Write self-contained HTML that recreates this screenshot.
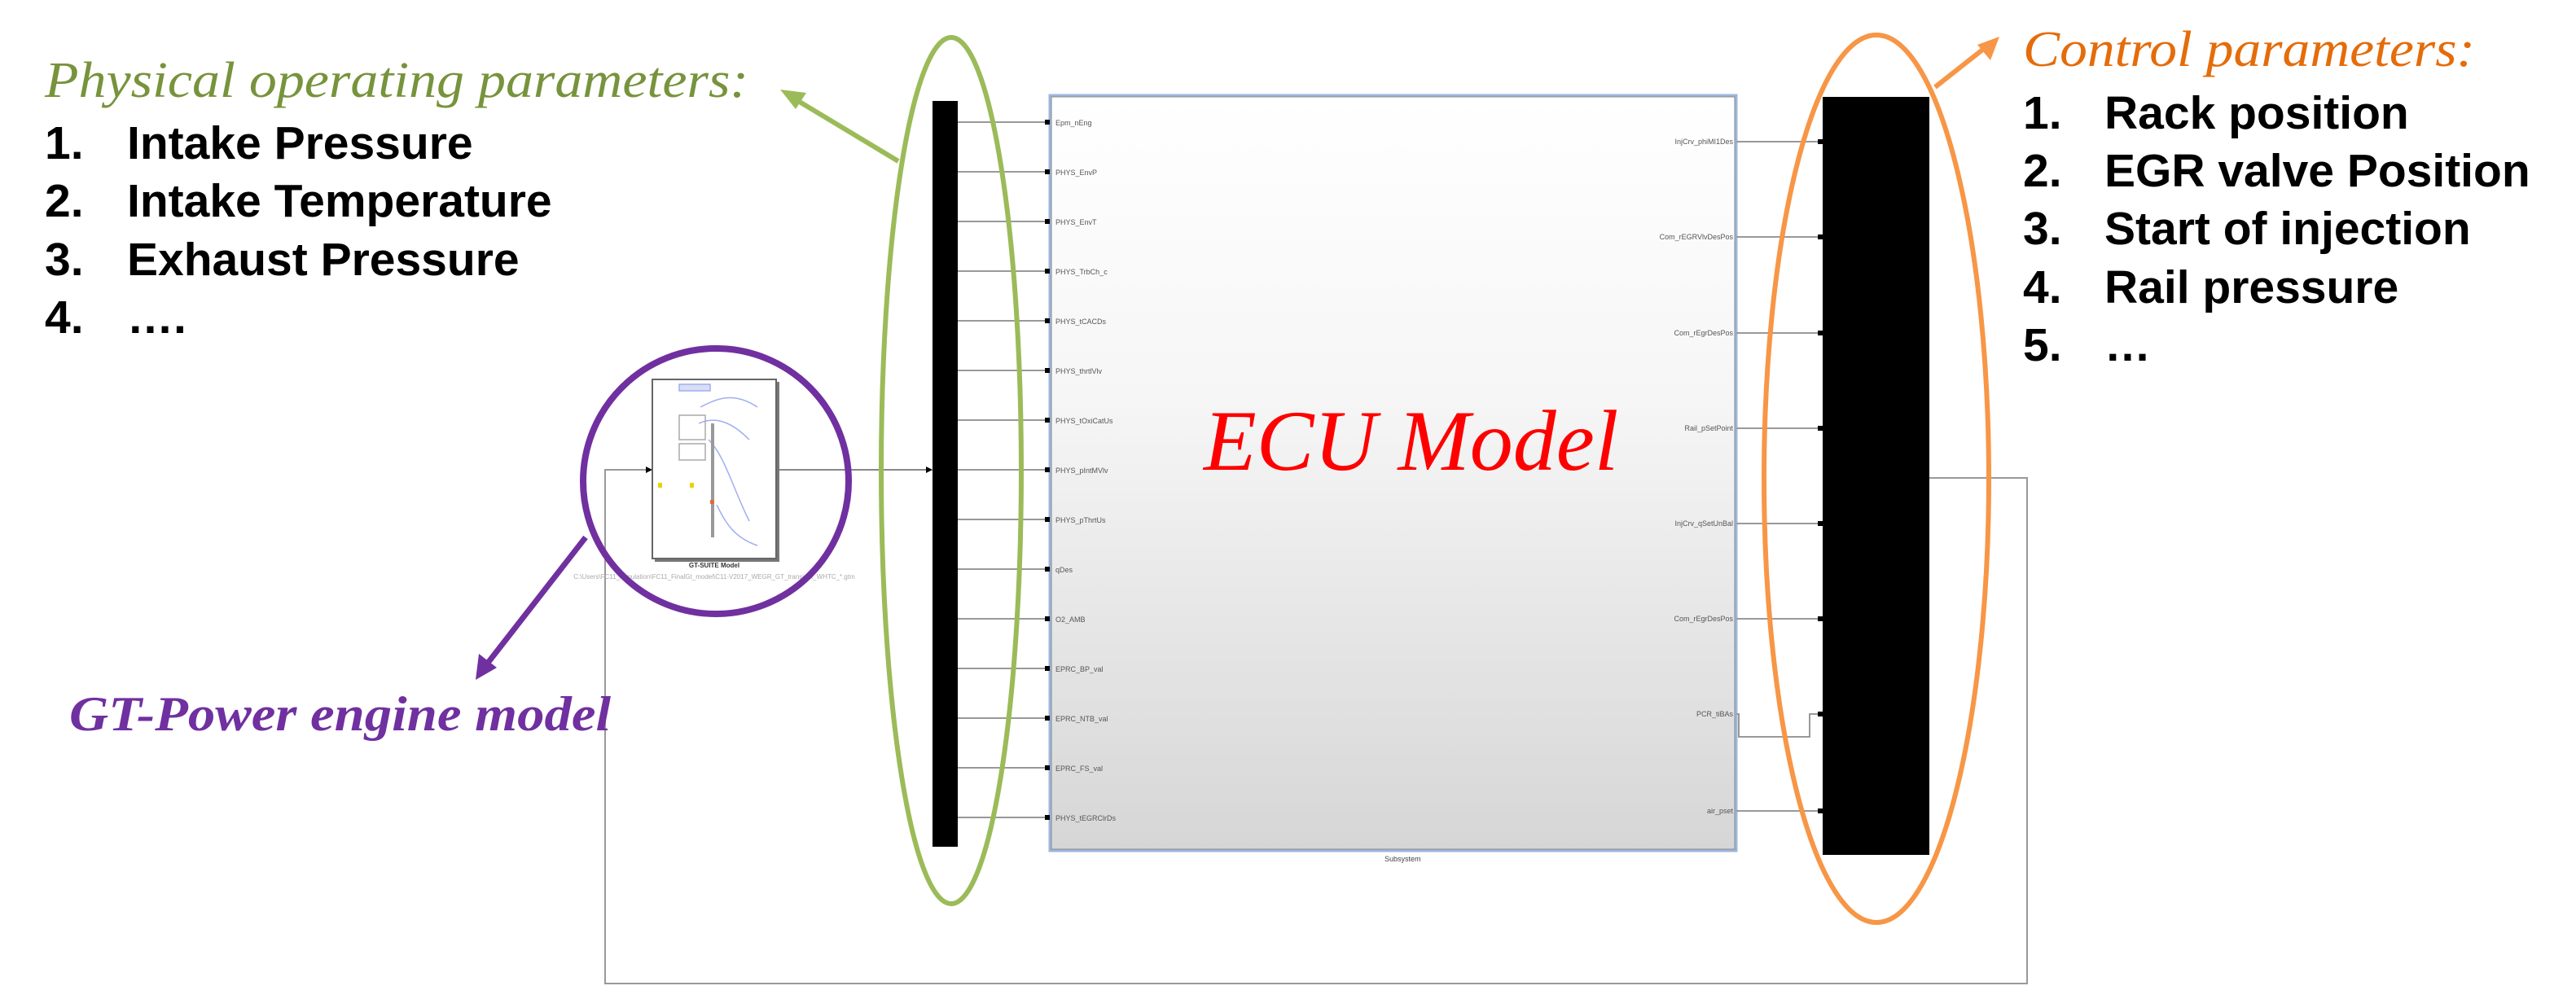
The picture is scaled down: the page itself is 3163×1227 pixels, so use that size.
<!DOCTYPE html>
<html><head><meta charset="utf-8"><style>
html,body{margin:0;padding:0;background:#fff;}
svg{display:block;}
</style></head><body>
<svg width="3163" height="1227" viewBox="0 0 3163 1227" xmlns="http://www.w3.org/2000/svg">
<defs>
<linearGradient id="g" x1="0" y1="0" x2="0" y2="1">
<stop offset="0" stop-color="#ffffff"/><stop offset="0.4" stop-color="#f6f6f6"/><stop offset="1" stop-color="#d6d6d6"/>
</linearGradient>
<marker id="ak" markerWidth="8" markerHeight="8" refX="7" refY="4" orient="auto" markerUnits="userSpaceOnUse"><path d="M0,0 L8,4 L0,8 z" fill="#000"/></marker>
</defs>

<polyline points="2369,587 2489,587 2489,1208 743,1208 743,577 800,577" fill="none" stroke="#999" stroke-width="2" marker-end="url(#ak)"/>
<line x1="954" y1="577" x2="1144" y2="577" stroke="#888" stroke-width="2" marker-end="url(#ak)"/>

<rect x="1289" y="117" width="843" height="928" fill="url(#g)" stroke="#9bb7dc" stroke-width="3"/>
<rect x="1291" y="119" width="839" height="924" fill="none" stroke="#8a8a8a" stroke-width="1"/>
<text x="1700" y="1058" font-family="Liberation Sans, sans-serif" font-size="9" fill="#444">Subsystem</text>

<g stroke="#999" stroke-width="2">
<line x1="1176" y1="150" x2="1287" y2="150"/><line x1="1176" y1="211" x2="1287" y2="211"/><line x1="1176" y1="272" x2="1287" y2="272"/><line x1="1176" y1="333" x2="1287" y2="333"/><line x1="1176" y1="394" x2="1287" y2="394"/><line x1="1176" y1="455" x2="1287" y2="455"/><line x1="1176" y1="516" x2="1287" y2="516"/><line x1="1176" y1="577" x2="1287" y2="577"/><line x1="1176" y1="638" x2="1287" y2="638"/><line x1="1176" y1="699" x2="1287" y2="699"/><line x1="1176" y1="760" x2="1287" y2="760"/><line x1="1176" y1="821" x2="1287" y2="821"/><line x1="1176" y1="882" x2="1287" y2="882"/><line x1="1176" y1="943" x2="1287" y2="943"/><line x1="1176" y1="1004" x2="1287" y2="1004"/>
</g>
<g fill="#000">
<rect x="1283" y="147" width="6" height="6"/><rect x="1283" y="208" width="6" height="6"/><rect x="1283" y="269" width="6" height="6"/><rect x="1283" y="330" width="6" height="6"/><rect x="1283" y="391" width="6" height="6"/><rect x="1283" y="452" width="6" height="6"/><rect x="1283" y="513" width="6" height="6"/><rect x="1283" y="574" width="6" height="6"/><rect x="1283" y="635" width="6" height="6"/><rect x="1283" y="696" width="6" height="6"/><rect x="1283" y="757" width="6" height="6"/><rect x="1283" y="818" width="6" height="6"/><rect x="1283" y="879" width="6" height="6"/><rect x="1283" y="940" width="6" height="6"/><rect x="1283" y="1001" width="6" height="6"/>
</g>
<g font-family="Liberation Sans, sans-serif" font-size="9" fill="#555">
<text x="1296" y="154">Epm_nEng</text><text x="1296" y="215">PHYS_EnvP</text><text x="1296" y="276">PHYS_EnvT</text><text x="1296" y="337">PHYS_TrbCh_c</text><text x="1296" y="398">PHYS_tCACDs</text><text x="1296" y="459">PHYS_thrtlVlv</text><text x="1296" y="520">PHYS_tOxiCatUs</text><text x="1296" y="581">PHYS_pIntMVlv</text><text x="1296" y="642">PHYS_pThrtUs</text><text x="1296" y="703">qDes</text><text x="1296" y="764">O2_AMB</text><text x="1296" y="825">EPRC_BP_val</text><text x="1296" y="886">EPRC_NTB_val</text><text x="1296" y="947">EPRC_FS_val</text><text x="1296" y="1008">PHYS_tEGRClrDs</text>
</g>

<g stroke="#999" stroke-width="2" fill="none">
<line x1="2132" y1="174" x2="2236" y2="174"/><line x1="2132" y1="291" x2="2236" y2="291"/><line x1="2132" y1="409" x2="2236" y2="409"/><line x1="2132" y1="526" x2="2236" y2="526"/><line x1="2132" y1="643" x2="2236" y2="643"/><line x1="2132" y1="760" x2="2236" y2="760"/>
<polyline points="2132,877 2135,877 2135,905 2222,905 2222,877 2236,877"/>
<line x1="2132" y1="996" x2="2236" y2="996"/>
</g>
<g fill="#000">
<rect x="2232" y="171" width="6" height="6"/><rect x="2232" y="288" width="6" height="6"/><rect x="2232" y="406" width="6" height="6"/><rect x="2232" y="523" width="6" height="6"/><rect x="2232" y="640" width="6" height="6"/><rect x="2232" y="757" width="6" height="6"/><rect x="2232" y="874" width="6" height="6"/><rect x="2232" y="993" width="6" height="6"/>
</g>
<g font-family="Liberation Sans, sans-serif" font-size="9" fill="#555" text-anchor="end">
<text x="2128" y="177">InjCrv_phiMI1Des</text><text x="2128" y="294">Com_rEGRVlvDesPos</text><text x="2128" y="412">Com_rEgrDesPos</text><text x="2128" y="529">Rail_pSetPoint</text><text x="2128" y="646">InjCrv_qSetUnBal</text><text x="2128" y="763">Com_rEgrDesPos</text><text x="2128" y="880">PCR_tiBAs</text><text x="2128" y="999">air_pset</text>
</g>

<rect x="1145" y="124" width="31" height="916" fill="#000"/>
<rect x="2238" y="119" width="131" height="931" fill="#000"/>

<rect x="804" y="469" width="153" height="221" fill="#777"/>
<rect x="801" y="466" width="152" height="220" fill="#fff" stroke="#666" stroke-width="2"/>
<g stroke="#8899ee" stroke-width="1.5" fill="none" opacity="0.8">
<rect x="834" y="472" width="38" height="8" fill="#cfd6f5"/>
<path d="M860,500 C880,490 900,480 930,500 M858,520 C880,510 900,520 920,540 M870,540 C890,560 900,600 920,640 M880,620 C890,640 900,660 930,670"/>
</g>
<g stroke="#aaa" stroke-width="1.5" fill="none">
<rect x="834" y="510" width="32" height="30"/><rect x="834" y="545" width="32" height="20"/>
<line x1="875" y1="520" x2="875" y2="660" stroke="#999" stroke-width="4"/>
</g>
<rect x="808" y="593" width="5" height="6" fill="#e8d400"/><rect x="847" y="593" width="5" height="6" fill="#e8d400"/>
<rect x="872" y="614" width="5" height="5" fill="#e36a3a"/>
<text x="877" y="697" font-family="Liberation Sans, sans-serif" font-size="8" font-weight="bold" fill="#333" text-anchor="middle">GT-SUITE Model</text>
<text x="877" y="711" font-family="Liberation Sans, sans-serif" font-size="8" fill="#aaa" text-anchor="middle">C:\Users\FC11_Simulation\FC11_FinalGt_model\C11-V2017_WEGR_GT_transient_WHTC_*.gtm</text>

<ellipse cx="1168" cy="578" rx="86" ry="532" fill="none" stroke="#9bbb59" stroke-width="6"/>
<ellipse cx="2304" cy="588" rx="138" ry="545" fill="none" stroke="#f79646" stroke-width="6"/>
<ellipse cx="879" cy="591" rx="163" ry="163" fill="none" stroke="#7030a0" stroke-width="8"/>

<line x1="1103" y1="198" x2="975" y2="121" stroke="#9bbb59" stroke-width="6"/>
<polygon points="958,110 990,114 977,134" fill="#9bbb59"/>
<line x1="2376" y1="107" x2="2442" y2="55" stroke="#f79646" stroke-width="6"/>
<polygon points="2455,45 2444,74 2428,55" fill="#f79646"/>
<line x1="719" y1="660" x2="596" y2="818" stroke="#7030a0" stroke-width="7"/>
<polygon points="584,835 588,803 610,820" fill="#7030a0"/>

<text x="1478" y="577" font-family="Liberation Serif, serif" font-style="italic" font-size="106" fill="#ff0000">ECU Model</text>

<text x="55" y="119" font-family="Liberation Serif, serif" font-style="italic" font-size="62" fill="#77933c" textLength="864" lengthAdjust="spacingAndGlyphs">Physical operating parameters:</text>
<g font-family="Liberation Sans, sans-serif" font-weight="bold" font-size="57" fill="#000">
<text x="55" y="195">1.</text><text x="156" y="195">Intake Pressure</text>
<text x="55" y="266">2.</text><text x="156" y="266">Intake  Temperature</text>
<text x="55" y="338">3.</text><text x="156" y="338">Exhaust Pressure</text>
<text x="55" y="409">4.</text><text x="156" y="409">….</text>
</g>
<text x="85" y="897" font-family="Liberation Serif, serif" font-style="italic" font-weight="bold" font-size="60" fill="#7030a0" textLength="665" lengthAdjust="spacingAndGlyphs">GT-Power engine model</text>

<text x="2484" y="81" font-family="Liberation Serif, serif" font-style="italic" font-size="62" fill="#e46c0a" textLength="555" lengthAdjust="spacingAndGlyphs">Control parameters:</text>
<g font-family="Liberation Sans, sans-serif" font-weight="bold" font-size="57" fill="#000">
<text x="2484" y="158">1.</text><text x="2584" y="158">Rack position</text>
<text x="2484" y="229">2.</text><text x="2584" y="229">EGR valve Position</text>
<text x="2484" y="300">3.</text><text x="2584" y="300">Start of injection</text>
<text x="2484" y="372">4.</text><text x="2584" y="372">Rail pressure</text>
<text x="2484" y="443">5.</text><text x="2584" y="443">…</text>
</g>
</svg>
</body></html>
